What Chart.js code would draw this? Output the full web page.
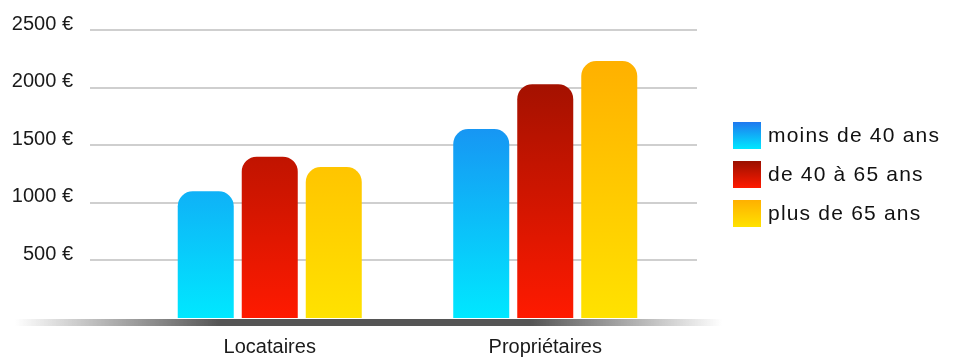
<!DOCTYPE html>
<html>
<head>
<meta charset="utf-8">
<script src="https://cdn.jsdelivr.net/npm/chart.js@4/dist/chart.umd.min.js"></script>
<style>
  html, body { margin: 0; padding: 0; background: #ffffff; }
  #wrap { width: 961px; height: 359px; }
</style>
</head>
<body>
<div id="wrap"><canvas id="c" width="961" height="359"></canvas></div>
<script>
// Categories and series (monthly amounts in euros)
const categories = ['Locataires', 'Propriétaires'];
const seriesNames = ['moins de 40 ans', 'de 40 à 65 ans', 'plus de 65 ans'];
const moins40 = [1100, 1640];
const de40a65 = [1400, 2030];
const plus65 = [1310, 2230];
const yTicks = [500, 1000, 1500, 2000, 2500];

// Vertical gradient stops per series (top colour, bottom colour)
const palette = [
  ['#1f78ef', '#00e8ff'],
  ['#9a1000', '#ff1a00'],
  ['#ffb000', '#ffe200']
];

function seriesGradient(ctx, scales, i) {
  const yTop = scales.y.getPixelForValue(2250);
  const yBot = scales.y.getPixelForValue(0);
  const g = ctx.createLinearGradient(0, yTop, 0, yBot);
  g.addColorStop(0, palette[i][0]);
  g.addColorStop(1, palette[i][1]);
  return g;
}

// Horizontal grid lines, drawn wider than the plot area
const gridPlugin = {
  id: 'wideGrid',
  beforeDatasetsDraw(chart) {
    const { ctx, scales } = chart;
    ctx.save();
    ctx.strokeStyle = '#cfcfcf';
    ctx.lineWidth = 2;
    yTicks.forEach(v => {
      const y = Math.round(scales.y.getPixelForValue(v));
      ctx.beginPath();
      ctx.moveTo(90, y);
      ctx.lineTo(697, y);
      ctx.stroke();
    });
    ctx.restore();
  }
};

// Baseline bar fading out at both ends
const baselinePlugin = {
  id: 'fadeBaseline',
  afterDatasetsDraw(chart) {
    const { ctx, scales } = chart;
    const y = scales.y.getPixelForValue(0);
    const g = ctx.createLinearGradient(15, 0, 722, 0);
    g.addColorStop(0, 'rgba(85,85,85,0)');
    g.addColorStop(0.29, 'rgba(85,85,85,1)');
    g.addColorStop(0.73, 'rgba(85,85,85,1)');
    g.addColorStop(1, 'rgba(85,85,85,0)');
    ctx.save();
    ctx.fillStyle = g;
    ctx.fillRect(15, y + 1, 707, 7);
    ctx.restore();
  }
};

// Legend on the right with gradient swatches
const legendPlugin = {
  id: 'sideLegend',
  afterDraw(chart) {
    const { ctx } = chart;
    ctx.save();
    chart.data.datasets.forEach((ds, i) => {
      const top = 122 + i * 39;
      const g = ctx.createLinearGradient(0, top, 0, top + 27);
      g.addColorStop(0, palette[i][0]);
      g.addColorStop(1, palette[i][1]);
      ctx.fillStyle = g;
      ctx.fillRect(733, top, 28, 27);
      ctx.fillStyle = '#111111';
      ctx.font = '21px "Liberation Sans", Arial, sans-serif';
      if ('letterSpacing' in ctx) ctx.letterSpacing = '1.2px';
      ctx.textBaseline = 'middle';
      ctx.textAlign = 'left';
      ctx.fillText(ds.label, 768, top + 14);
    });
    ctx.restore();
  }
};

const makeDataset = (label, data, i) => ({
  label,
  data,
  backgroundColor: (c) => {
    const { chart } = c;
    if (!chart.chartArea) return palette[i][1];
    return seriesGradient(chart.ctx, chart.scales, i);
  },
  borderRadius: { topLeft: 15, topRight: 15, bottomLeft: 0, bottomRight: 0 },
  borderSkipped: 'bottom',
  categoryPercentage: 0.697,
  barPercentage: 0.875
});

new Chart(document.getElementById('c'), {
  type: 'bar',
  data: {
    labels: categories,
    datasets: [
      makeDataset(seriesNames[0], moins40, 0),
      makeDataset(seriesNames[1], de40a65, 1),
      makeDataset(seriesNames[2], plus65, 2)
    ]
  },
  options: {
    responsive: false,
    animation: false,
    layout: { padding: { left: 0, right: 278, top: 30, bottom: 0 } },
    plugins: {
      legend: { display: false },
      tooltip: { enabled: false }
    },
    scales: {
      x: {
        grid: { display: false, drawTicks: false },
        border: { display: false },
        ticks: {
          color: '#1a1a1a',
          font: { family: '"Liberation Sans", Arial, sans-serif', size: 20 },
          padding: 17
        },
        afterFit(scale) { scale.height = 41; }
      },
      y: {
        min: 0,
        max: 2500,
        grid: { display: false, drawTicks: false },
        border: { display: false },
        afterBuildTicks(scale) {
          scale.ticks = yTicks.map(v => ({ value: v }));
        },
        ticks: {
          color: '#1a1a1a',
          font: { family: '"Liberation Sans", Arial, sans-serif', size: 20 },
          padding: 59,
          labelOffset: -6,
          callback: (v) => v + ' €'
        },
        afterFit(scale) {
          // fixed axis width; the large label gap should not push the plot area down
          scale.width = 132;
          scale.paddingTop = 0;
          scale.paddingBottom = 0;
        }
      }
    }
  },
  plugins: [gridPlugin, baselinePlugin, legendPlugin]
});
</script>
</body>
</html>
